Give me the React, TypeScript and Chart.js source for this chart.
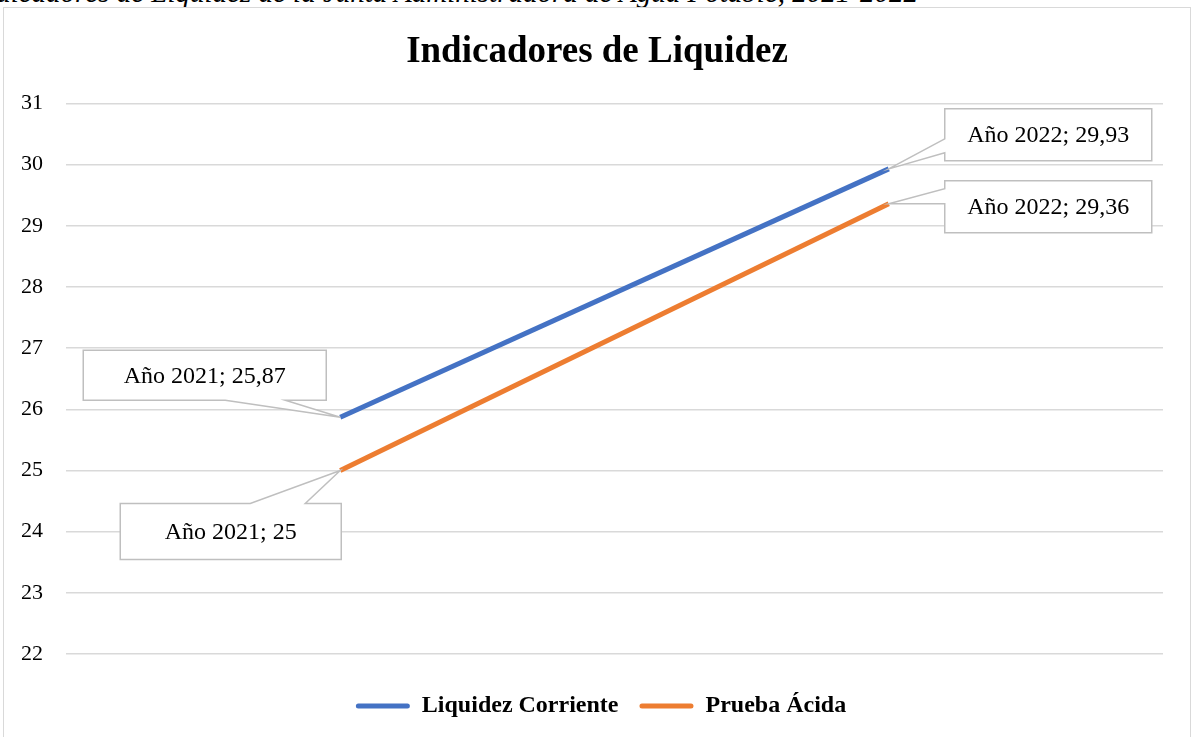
import React, { useEffect, useRef } from "react";
import { Chart, registerables } from "chart.js";

Chart.register(...registerables);

const categories = ["Año 2021", "Año 2022"];
const liquidezCorriente = [25.87, 29.93];
const pruebaAcida = [25, 29.36];
const seriesNames = ["Liquidez Corriente", "Prueba Ácida"];
const seriesColors = ["#4472C4", "#ED7D31"];
const yMin = 22;
const yMax = 31;
const chartTitle = "Indicadores de Liquidez";
const captionText = "Indicadores de Liquidez de la Junta Administradora de Agua Potable, 2021-2022";

const SERIF = "'Liberation Serif', 'Times New Roman', serif";

// Callout placement (style only): box offset from point, size, and wedge side
// [datasetIndex][pointIndex]
const calloutPlacement = [
  [
    { dx: -257, dy: -67, w: 243, h: 50, side: "bottom", b1: -115, b2: -55 },
    { dx: 56, dy: -60, w: 207, h: 52, side: "left", b1: -30, b2: -16 },
  ],
  [
    { dx: -220, dy: 33, w: 221, h: 56, side: "top", b1: -90, b2: -35 },
    { dx: 56, dy: -23, w: 207, h: 52, side: "left", b1: -15, b2: 0 },
  ],
];

function fmt(v: number) {
  return String(v).replace(".", ",");
}

// Centre title and legend on the whole chart box (as Excel does), not the padded area
const centerShiftPlugin = {
  id: "centerShift",
  afterLayout(chart: any) {
    const tb = chart.titleBlock;
    if (tb) {
      tb.left += 5;
      tb.right += 5;
    }
    const lg = chart.legend;
    if (lg) {
      lg.left += 9;
      lg.right += 9;
    }
  },
};

const calloutPlugin = {
  id: "callouts",
  afterDatasetsDraw(chart: any) {
    const ctx = chart.ctx;
    chart.data.datasets.forEach((ds: any, di: number) => {
      const meta = chart.getDatasetMeta(di);
      meta.data.forEach((pt: any, pi: number) => {
        const p = calloutPlacement[di][pi];
        const px = pt.x;
        const py = pt.y;
        const x0 = px + p.dx;
        const y0 = py + p.dy;
        const x1 = x0 + p.w;
        const y1 = y0 + p.h;
        ctx.save();
        ctx.beginPath();
        if (p.side === "bottom") {
          ctx.moveTo(x0, y0);
          ctx.lineTo(x1, y0);
          ctx.lineTo(x1, y1);
          ctx.lineTo(px + p.b2, y1);
          ctx.lineTo(px, py);
          ctx.lineTo(px + p.b1, y1);
          ctx.lineTo(x0, y1);
        } else if (p.side === "top") {
          ctx.moveTo(x0, y0);
          ctx.lineTo(px + p.b1, y0);
          ctx.lineTo(px, py);
          ctx.lineTo(px + p.b2, y0);
          ctx.lineTo(x1, y0);
          ctx.lineTo(x1, y1);
          ctx.lineTo(x0, y1);
        } else {
          ctx.moveTo(x0, y0);
          ctx.lineTo(x1, y0);
          ctx.lineTo(x1, y1);
          ctx.lineTo(x0, y1);
          ctx.lineTo(x0, py + p.b2);
          ctx.lineTo(px, py);
          ctx.lineTo(x0, py + p.b1);
        }
        ctx.closePath();
        ctx.fillStyle = "#ffffff";
        ctx.fill();
        ctx.lineWidth = 1.5;
        ctx.strokeStyle = "#bfbfbf";
        ctx.stroke();
        ctx.fillStyle = "#000000";
        ctx.font = `24px ${SERIF}`;
        ctx.textAlign = "center";
        ctx.textBaseline = "middle";
        const label = `${categories[pi]}; ${fmt(ds.data[pi])}`;
        ctx.fillText(label, (x0 + x1) / 2, (y0 + y1) / 2 + 1);
        ctx.restore();
      });
    });
  },
};

export default function App() {
  const canvasRef = useRef<HTMLCanvasElement | null>(null);

  useEffect(() => {
    if (!canvasRef.current) return;
    const chart = new Chart(canvasRef.current, {
      type: "line",
      data: {
        labels: categories,
        datasets: [
          {
            label: seriesNames[0],
            data: liquidezCorriente,
            borderColor: seriesColors[0],
            backgroundColor: seriesColors[0],
            borderWidth: 5,
            pointRadius: 0,
            pointHoverRadius: 0,
            tension: 0,
          },
          {
            label: seriesNames[1],
            data: pruebaAcida,
            borderColor: seriesColors[1],
            backgroundColor: seriesColors[1],
            borderWidth: 5,
            pointRadius: 0,
            pointHoverRadius: 0,
            tension: 0,
          },
        ],
      },
      options: {
        animation: false,
        responsive: false,
        maintainAspectRatio: false,
        layout: { padding: { left: 17, right: 26, top: 0, bottom: 8 } },
        plugins: {
          title: {
            display: true,
            text: chartTitle,
            color: "#000000",
            font: { family: SERIF, size: 37, weight: "bold" },
            padding: { top: 22, bottom: 29 },
          },
          legend: {
            position: "bottom",
            labels: {
              color: "#000000",
              font: { family: SERIF, size: 24, weight: "bold" },
              boxWidth: 54,
              boxHeight: 5,
              padding: 21,
              useBorderRadius: true,
              borderRadius: 2.5,
              generateLabels: (chart: any) => {
                const items = Chart.defaults.plugins.legend.labels.generateLabels(chart);
                items.forEach((it: any) => {
                  it.lineWidth = 0;
                });
                return items;
              },
            },
          },
          tooltip: { enabled: false },
        },
        scales: {
          x: {
            offset: true,
            grid: { display: false },
            border: { display: false },
            ticks: { display: false },
            afterFit: (s: any) => {
              s.height = 19;
            },
          },
          y: {
            min: yMin,
            max: yMax,
            ticks: {
              stepSize: 1,
              color: "#000000",
              font: { family: SERIF, size: 22 },
              padding: 23,
            },
            grid: { color: "#d9d9d9", lineWidth: 1.5, drawTicks: false },
            border: { display: false },
            afterFit: (s: any) => {
              s.width = 45;
            },
          },
        },
      },
      plugins: [centerShiftPlugin, calloutPlugin],
    });
    return () => chart.destroy();
  }, []);

  return (
    <div style={{ position: "fixed", left: 0, top: 0, width: 1194, height: 737, overflow: "hidden", background: "#fff" }}>
      <div
        style={{
          position: "absolute",
          left: -28,
          top: -24,
          fontFamily: SERIF,
          fontStyle: "italic",
          fontSize: 29,
          lineHeight: "normal",
          whiteSpace: "nowrap",
          color: "#000",
        }}
      >
        {captionText}
      </div>
      <div
        style={{
          position: "absolute",
          left: 3,
          top: 7,
          width: 1188,
          height: 740,
          border: "1.5px solid #d9d9d9",
          boxSizing: "border-box",
          background: "#fff",
        }}
      >
        <canvas ref={canvasRef} width={1185} height={728} style={{ display: "block" }} />
      </div>
    </div>
  );
}
